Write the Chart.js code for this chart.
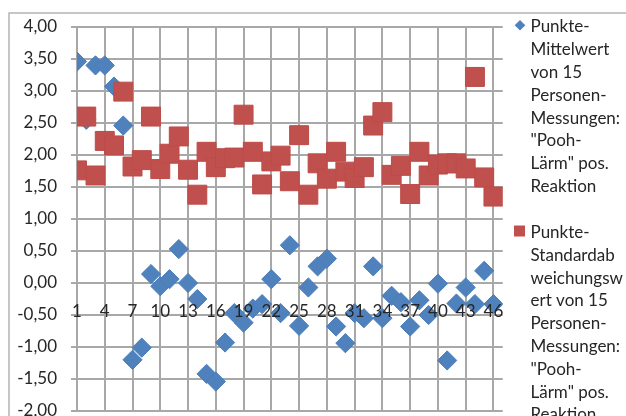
<!DOCTYPE html>
<html>
<head>
<meta charset="utf-8">
<script src="https://cdn.jsdelivr.net/npm/chart.js@4/dist/chart.umd.min.js"></script>
<style>
  html, body { margin: 0; padding: 0; background: #ffffff; overflow: hidden; }
  #wrap { position: relative; width: 626px; height: 440px; }
</style>
</head>
<body>
<div id="wrap"><canvas id="diagramm"></canvas></div>
<script>
// Messung 1 … 46
const messungen = [1, 2, 3, 4, 5, 6, 7, 8, 9, 10, 11, 12, 13, 14, 15, 16, 17, 18, 19, 20, 21, 22, 23,
  24, 25, 26, 27, 28, 29, 30, 31, 32, 33, 34, 35, 36, 37, 38, 39, 40, 41, 42, 43, 44, 45, 46];

// Punkte-Mittelwert von 15 Personen-Messungen
const mittelwert = [3.46, 2.55, 3.40, 3.40, 3.07, 2.46, -1.20, -1.01, 0.14, -0.05, 0.06, 0.53,
  0.00, -0.25, -1.42, -1.54, -0.93, -0.47, -0.62, -0.40, -0.33, 0.06, -0.47, 0.59, -0.67, -0.07,
  0.26, 0.38, -0.68, -0.94, -0.47, -0.55, 0.26, -0.55, -0.20, -0.30, -0.68, -0.27, -0.50, -0.01,
  -1.21, -0.32, -0.07, -0.33, 0.19, -0.33];

// Punkte-Standardabweichungswert von 15 Personen-Messungen
const standardabweichung = [1.76, 2.60, 1.68, 2.22, 2.15, 2.99, 1.82, 1.92, 2.60, 1.78, 2.02, 2.29,
  1.77, 1.38, 2.05, 1.81, 1.95, 1.96, 2.63, 2.05, 1.54, 1.90, 1.99, 1.59, 2.31, 1.38, 1.87, 1.63,
  2.05, 1.74, 1.64, 1.81, 2.46, 2.67, 1.69, 1.83, 1.39, 2.05, 1.68, 1.85, 1.87, 1.87, 1.79, 3.22,
  1.65, 1.35];

// beschriftete Kategorien der x-Achse
const xTickValues = [1, 4, 7, 10, 13, 16, 19, 22, 25, 28, 31, 34, 37, 40, 43, 46];

// Legendentexte, umbrochen wie im Diagramm
const legendeMittelwert = ['Punkte-', 'Mittelwert', 'von 15', 'Personen-', 'Messungen:', '"Pooh-', 'Lärm" pos.', 'Reaktion'];
const legendeStdAbw = ['Punkte-', 'Standardab', 'weichungsw', 'ert von 15', 'Personen-', 'Messungen:', '"Pooh-', 'Lärm" pos.', 'Reaktion'];

const SCHRIFT = 'Lato, "Open Sans", "Noto Sans", sans-serif';
const TEXTFARBE = '#262626';
const GITTER = '#a8a8a8';
const BLAU = '#4F81BD';
const ROT = '#C0504D';

const punkte = (werte) => messungen.map((m, i) => ({ x: m, y: werte[i] }));

// Rahmen um den Diagrammbereich
const rahmen = {
  id: 'rahmen',
  beforeDraw(chart) {
    const ctx = chart.ctx;
    ctx.save();
    ctx.strokeStyle = '#b4b4b4';
    ctx.lineWidth = 1.5;
    ctx.beginPath();
    ctx.moveTo(9, chart.height + 5);
    ctx.lineTo(9, 13);
    ctx.lineTo(chart.width + 5, 13);
    ctx.stroke();
    ctx.restore();
  }
};

// Legende rechts mit mehrzeiligen Einträgen
const seitenLegende = {
  id: 'seitenLegende',
  afterDraw(chart) {
    const ctx = chart.ctx;
    const zeilenAbstand = 22.8;
    const eintraege = [
      { text: legendeMittelwert, grundlinie: 32.3, mx: 520, my: 25.3, form: 'raute', farbe: BLAU },
      { text: legendeStdAbw, grundlinie: 238, mx: 519.5, my: 231, form: 'quadrat', farbe: ROT }
    ];
    ctx.save();
    ctx.font = '17px ' + SCHRIFT;
    ctx.textBaseline = 'alphabetic';
    ctx.textAlign = 'left';
    eintraege.forEach(e => {
      ctx.fillStyle = e.farbe;
      ctx.beginPath();
      if (e.form === 'raute') {
        const r = 5.3;
        ctx.moveTo(e.mx, e.my - r);
        ctx.lineTo(e.mx + r, e.my);
        ctx.lineTo(e.mx, e.my + r);
        ctx.lineTo(e.mx - r, e.my);
        ctx.closePath();
      } else {
        ctx.rect(e.mx - 5.5, e.my - 5.5, 11, 11);
      }
      ctx.fill();
      ctx.fillStyle = TEXTFARBE;
      e.text.forEach((zeile, k) => ctx.fillText(zeile, 530.5, e.grundlinie + k * zeilenAbstand));
    });
    ctx.restore();
  }
};

const zahl = (v) => v.toFixed(2).replace('.', ',');

new Chart(document.getElementById('diagramm'), {
  type: 'scatter',
  data: {
    datasets: [
      {
        label: 'Punkte-Mittelwert von 15 Personen-Messungen: "Pooh-Lärm" pos. Reaktion',
        data: punkte(mittelwert),
        pointStyle: 'rectRot',
        pointRadius: 9.6,
        pointHoverRadius: 9.6,
        backgroundColor: BLAU,
        borderColor: '#4A7EBB',
        borderWidth: 1,
        order: 1
      },
      {
        label: 'Punkte-Standardabweichungswert von 15 Personen-Messungen: "Pooh-Lärm" pos. Reaktion',
        data: punkte(standardabweichung),
        pointStyle: 'rect',
        pointRadius: 13.4,
        pointHoverRadius: 13.4,
        backgroundColor: ROT,
        borderColor: '#BE4B48',
        borderWidth: 1,
        order: 0
      }
    ]
  },
  options: {
    responsive: true,
    maintainAspectRatio: false,
    animation: false,
    events: [],
    layout: { padding: { left: 8, top: 27, right: 123.3, bottom: 29 } },
    plugins: { legend: { display: false }, tooltip: { enabled: false } },
    scales: {
      x: {
        type: 'linear',
        min: 1,
        max: 47,
        position: { y: 0 },
        afterBuildTicks(scale) { scale.ticks = xTickValues.map(v => ({ value: v })); },
        afterFit(scale) { scale.paddingLeft = 0; scale.paddingRight = 0; },
        grid: { color: GITTER, lineWidth: 2, drawTicks: false },
        border: { display: false },
        ticks: {
          z: 1,
          autoSkip: false,
          maxRotation: 0,
          padding: 18,
          color: TEXTFARBE,
          font: { family: SCHRIFT, size: 17 },
          callback: (v) => String(v)
        }
      },
      y: {
        type: 'linear',
        min: -2,
        max: 4,
        position: 'left',
        afterFit(scale) { scale.width = 69; scale.paddingTop = 0; scale.paddingBottom = 0; },
        grid: { color: GITTER, lineWidth: 2, drawTicks: true, tickLength: 6 },
        border: { display: true, color: GITTER, width: 2 },
        ticks: {
          stepSize: 0.5,
          padding: 14,
          color: TEXTFARBE,
          font: { family: SCHRIFT, size: 17 },
          callback: (v) => zahl(v)
        }
      }
    }
  },
  plugins: [rahmen, seitenLegende]
});
</script>
</body>
</html>
